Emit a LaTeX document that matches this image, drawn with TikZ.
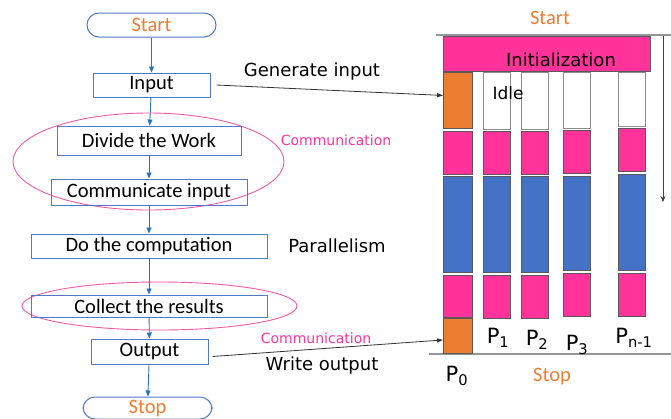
\documentclass[tikz,border=0pt]{standalone}
\usepackage{fontspec}
\setmainfont{Carlito}
\newfontfamily\handfont{DejaVu Sans}
\usetikzlibrary{arrows.meta, positioning, shapes.geometric}

\definecolor{FlowBlue}{RGB}{80,122,200}
\definecolor{EdgeBlue}{RGB}{40,112,200}
\definecolor{HotPink}{RGB}{255,51,153}
\definecolor{RingPink}{RGB}{238,90,165}
\definecolor{TaskOrange}{RGB}{237,125,49}
\definecolor{CoreBlue}{RGB}{68,114,196}
\definecolor{LineGray}{RGB}{150,150,150}

\begin{document}
\begin{tikzpicture}[x=1pt, y=-1pt, font=\fontsize{20.5}{22}\selectfont,
	term/.style={draw=FlowBlue, line width=1pt, rounded corners=12pt, minimum width=129pt, minimum height=24pt, inner sep=0pt, text=TaskOrange},
	stepbox/.style={draw=FlowBlue, line width=1pt, inner sep=0pt},
	ring/.style={ellipse, draw=RingPink, line width=0.9pt, inner sep=0pt},
	fl/.style={-{Triangle[length=6pt, width=5pt]}, EdgeBlue, line width=0.9pt},
	ptr/.style={-{Triangle[length=6pt, width=4pt]}, black!80, line width=0.8pt},
	blk/.style={draw=black!65, line width=0.9pt, inner sep=0pt, anchor=north west, minimum width=27pt},
	note/.style={font=\handfont\fontsize{18}{20}\selectfont},
	comm/.style={font=\handfont\fontsize{14}{16}\selectfont, text=HotPink},
	plbl/.style={font=\handfont\fontsize{21}{22}\selectfont}]

	\useasboundingbox (0,0) rectangle (671,418);

	% flowchart
	\node[ring, minimum width=271pt, minimum height=97pt] (grpa) at (148.5,161.5) {};
	\node[ring, minimum width=275pt, minimum height=48pt] (grpb) at (159.5,306) {};

	\node[term] (start) at (151.5,25) {Start};
	\node[stepbox, minimum width=117pt, minimum height=24pt] (input) at (151.5,85) {Input};
	\node[stepbox, minimum width=184pt, minimum height=29pt] (divide) at (149,140.5) {Divide the Work};
	\node[stepbox, minimum width=196pt, minimum height=26pt] (comm) at (149,192) {Communicate input};
	\node[stepbox, minimum width=236pt, minimum height=24pt] (compute) at (149,246) {Do the computation};
	\node[stepbox, minimum width=236pt, minimum height=22pt] (collect) at (149,306) {Collect the results};
	\node[stepbox, minimum width=117pt, minimum height=25pt] (output) at (149.5,351.5) {Output};
	\node[term, minimum height=22pt] (stop) at (147.5,408) {Stop};

	\draw[fl] (start)--(input); \draw[fl] (input)--(divide);
	\draw[fl] (divide)--(comm); \draw[fl] (comm)--(compute);
	\draw[fl] (compute)--(collect); \draw[fl] (collect)--(output);
	\draw[fl] (output)--(stop);

	\node[note] (gen) at (312,72) {Generate input};
	\node[comm] (comma) at (336,140) {Communication};
	\node[note] (par) at (337,246) {Parallelism};
	\node[comm] (commb) at (316,338) {Communication};
	\node[note] (wout) at (322,366) {Write output};

	% timeline of the processes
	\node[text=TaskOrange] (tstart) at (550,18) {Start};
	\coordinate (topl) at (436,35); \coordinate (topr) at (671,35);
	\coordinate (botl) at (429,354); \coordinate (botr) at (671,354);
	\coordinate (ttop) at (663,36); \coordinate (tbot) at (663,202);
	\draw[LineGray, line width=1.1pt] (topl)--(topr);
	\draw[LineGray, line width=1.1pt] (botl)--(botr);
	\draw[-{Stealth[length=6pt, width=5pt]}, black!75, line width=0.8pt] (ttop)--(tbot);

	\node[blk, fill=HotPink, minimum width=207pt, minimum height=35pt] (init) at (443,36) {};
	\node[note] (initlbl) at (561,60) {Initialization};

	\node[blk, fill=TaskOrange, minimum width=29pt, minimum height=56pt] (p0a) at (443,72) {};
	\node[blk, fill=HotPink, minimum width=29pt, minimum height=43pt] (p0b) at (443,131) {};
	\node[blk, fill=CoreBlue, minimum width=29pt, minimum height=96pt] (p0c) at (443,176) {};
	\node[blk, fill=HotPink, minimum width=29pt, minimum height=42pt] (p0d) at (443,275) {};
	\node[blk, fill=TaskOrange, minimum width=29pt, minimum height=35pt] (p0e) at (443,318) {};

	\foreach \c/\x/\yb/\yc/\yd in {1/483/131/176/275, 2/521/131/176/275, 3/563/130/176/273, 4/618/128/174/273} {
		\node[blk, draw=black!45, fill=white, minimum height={\yb-72-2}] (p\c a) at (\x,72) {};
		\node[blk, fill=HotPink, minimum height=43pt] (p\c b) at (\x,\yb) {};
		\node[blk, fill=CoreBlue, minimum height={\yd-\yc-3}] (p\c c) at (\x,\yc) {};
		\node[blk, fill=HotPink, minimum height=43pt] (p\c d) at (\x,\yd) {};
	}
	\node[note, font=\handfont\fontsize{17}{18}\selectfont] (idle) at (508,93) {Idle};

	\node[plbl] (l0) at (457,376) {P\textsubscript{0}};
	\node[plbl] (l1) at (498,338) {P\textsubscript{1}};
	\node[plbl] (l2) at (537,340) {P\textsubscript{2}};
	\node[plbl] (l3) at (577,345) {P\textsubscript{3}};
	\node[plbl] (l4) at (634,338) {P\textsubscript{n-1}};
	\node[text=TaskOrange] (tstop) at (552,376) {Stop};

	\draw[ptr] ([xshift=6pt]input.east)--([yshift=5pt]p0a.west);
	\draw[ptr] ([xshift=4pt, yshift=-5pt]output.east)--([yshift=-4pt]p0e.west);
\end{tikzpicture}
\end{document}
